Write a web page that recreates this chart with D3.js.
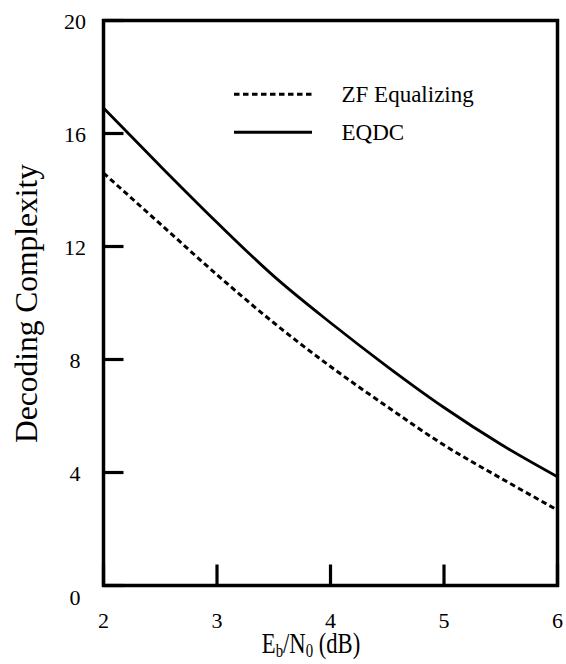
<!DOCTYPE html>
<html lang="en">
<head>
    <meta charset="UTF-8">
    <title>Decoding Complexity</title>
    <style>
        body{
            margin:0;
            background:#fff;
        }
        svg text{
            font-family:"Liberation Serif","Times New Roman",serif;
            fill:#000;
        }
    </style>
    <script src="https://cdn.jsdelivr.net/npm/d3@7/dist/d3.min.js"></script>
</head>
<body>
<div id="container"></div>
<script>

var w = 566;
var h = 664;

// data
var snr = [2, 2.5, 3, 3.5, 4, 4.5, 5, 5.5, 6];
var eqdc = [16.9, 14.85, 12.85, 10.95, 9.3, 7.75, 6.3, 5.0, 3.85];
var zf = [14.6, 12.8, 11.0, 9.3, 7.75, 6.33, 4.97, 3.8, 2.67];
var xTicks = [2, 3, 4, 5, 6];
var yTicks = [0, 4, 8, 12, 16, 20];

var plotLeft = 103.5, plotRight = 557.5, plotTop = 20.5, plotBottom = 585.5;
var serif = "'Liberation Serif','Times New Roman',serif";

var xScale = d3.scaleLinear().domain([2, 6]).range([plotLeft, plotRight]);
var yScale = d3.scaleLinear().domain([0, 20]).range([plotBottom, plotTop]);

var svg = d3.select("#container")
        .append("svg")
        .attr("width", w)
        .attr("height", h)
        .attr("font-family", serif);

svg.append("clipPath").attr("id", "clip")
        .append("rect")
        .attr("x", plotLeft).attr("y", plotTop)
        .attr("width", plotRight - plotLeft).attr("height", plotBottom - plotTop);

var line = d3.line()
        .x(function(d) { return xScale(d[0]); })
        .y(function(d) { return yScale(d[1]); })
        .curve(d3.curveMonotoneX);

//curves
svg.append("path")
        .datum(d3.zip(snr, zf))
        .attr("d", line)
        .attr("clip-path", "url(#clip)")
        .attr("fill", "none")
        .attr("stroke", "#000")
        .attr("stroke-width", 3)
        .attr("stroke-dasharray", "5.5,3.5");

svg.append("path")
        .datum(d3.zip(snr, eqdc))
        .attr("d", line)
        .attr("clip-path", "url(#clip)")
        .attr("fill", "none")
        .attr("stroke", "#000")
        .attr("stroke-width", 2.8);

//y axis ticks (inside) and labels
svg.selectAll("line.ytick")
        .data(yTicks)
        .enter()
        .append("line")
        .attr("class", "ytick")
        .attr("x1", plotLeft)
        .attr("x2", plotLeft + 20)
        .attr("y1", function(d) { return yScale(d); })
        .attr("y2", function(d) { return yScale(d); })
        .attr("stroke", "#000")
        .attr("stroke-width", 3.2);

svg.selectAll("text.ylab")
        .data(yTicks)
        .enter()
        .append("text")
        .attr("class", "ylab")
        .text(function(d) { return d; })
        .attr("text-anchor", "middle")
        .attr("x", 75)
        .attr("y", function(d) { return d === 0 ? yScale(d) + 19 : yScale(d) + 8; })
        .attr("font-family", serif)
        .attr("font-size", "22px");

//x axis ticks (inside) and labels
svg.selectAll("line.xtick")
        .data(xTicks)
        .enter()
        .append("line")
        .attr("class", "xtick")
        .attr("x1", function(d) { return xScale(d); })
        .attr("x2", function(d) { return xScale(d); })
        .attr("y1", plotBottom)
        .attr("y2", plotBottom - 21)
        .attr("stroke", "#000")
        .attr("stroke-width", 3.2);

svg.selectAll("text.xlab")
        .data(xTicks)
        .enter()
        .append("text")
        .attr("class", "xlab")
        .text(function(d) { return d; })
        .attr("text-anchor", "middle")
        .attr("x", function(d) { return xScale(d); })
        .attr("y", 628)
        .attr("font-family", serif)
        .attr("font-size", "22px");

//frame
svg.append("rect")
        .attr("x", plotLeft)
        .attr("y", plotTop)
        .attr("width", plotRight - plotLeft)
        .attr("height", plotBottom - plotTop)
        .attr("fill", "none")
        .attr("stroke", "#000")
        .attr("stroke-width", 3.5);

//axis titles
var xt = svg.append("text")
        .attr("text-anchor", "middle")
        .attr("transform", "translate(311,653) scale(0.78,1)")
        .attr("font-family", serif)
        .attr("font-size", "29px");
xt.append("tspan").text("E");
xt.append("tspan").text("b").attr("font-size", "19px").attr("dy", 4);
xt.append("tspan").text("/N").attr("dy", -4);
xt.append("tspan").text("0").attr("font-size", "19px").attr("dy", 4);
xt.append("tspan").text(" (dB)").attr("dy", -4);

svg.append("text")
        .text("Decoding Complexity")
        .attr("text-anchor", "middle")
        .attr("transform", "translate(37,303.5) rotate(-90)")
        .attr("font-family", serif)
        .attr("font-size", "31.5px");

//legend
var legend = [
    {name: "ZF Equalizing", dash: "5.5,3.5", y: 94.3},
    {name: "EQDC", dash: null, y: 132.3}
];

svg.selectAll("line.leg")
        .data(legend)
        .enter()
        .append("line")
        .attr("class", "leg")
        .attr("x1", 234)
        .attr("x2", 312)
        .attr("y1", function(d) { return d.y; })
        .attr("y2", function(d) { return d.y; })
        .attr("stroke", "#000")
        .attr("stroke-width", 3)
        .attr("stroke-dasharray", function(d) { return d.dash; });

svg.selectAll("text.leg")
        .data(legend)
        .enter()
        .append("text")
        .attr("class", "leg")
        .text(function(d) { return d.name; })
        .attr("x", 341.5)
        .attr("y", function(d) { return d.y + 8; })
        .attr("font-family", serif)
        .attr("font-size", "23px");

</script>
</body>
</html>
